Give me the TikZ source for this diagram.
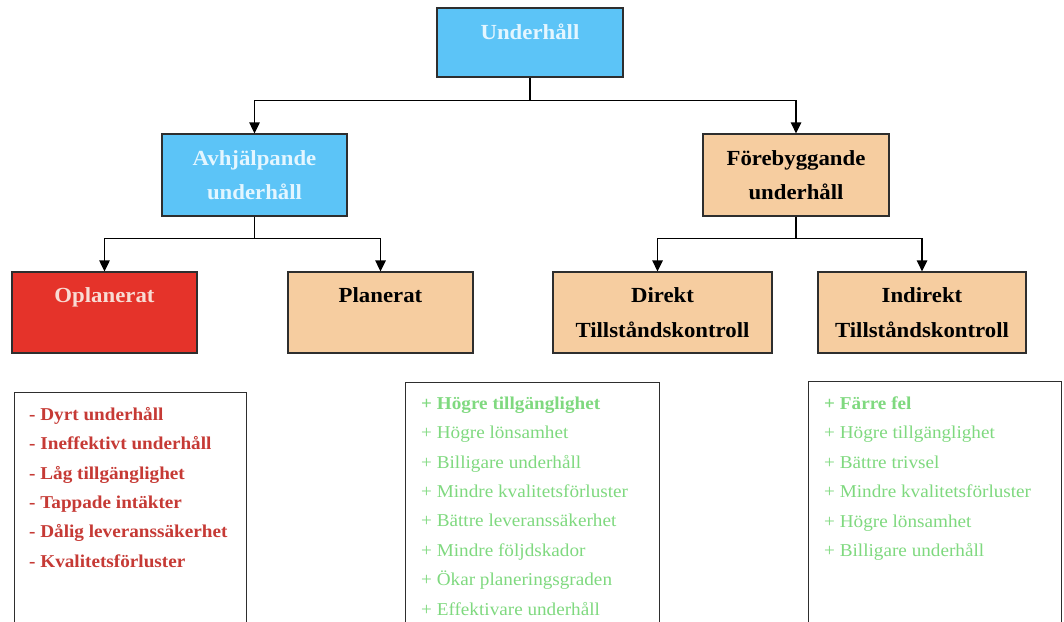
\documentclass[tikz,border=0pt]{standalone}
\usepackage{fontspec}
\setmainfont{Liberation Serif}[FakeStretch=1.06]
\usetikzlibrary{arrows.meta,calc}

\definecolor{skyfill}{HTML}{5CC4F7}
\definecolor{skytext}{HTML}{E4F6FF}
\definecolor{sandfill}{HTML}{F6CDA0}
\definecolor{alarmfill}{HTML}{E5332A}
\definecolor{alarmtext}{HTML}{F8DCD4}
\definecolor{edge}{HTML}{2E2E2E}
\definecolor{consred}{HTML}{C63A35}
\definecolor{prosgreen}{HTML}{7FD97F}

\newcommand{\boxfont}{\fontsize{21.5}{34.5}\selectfont\bfseries}
\newcommand{\listfont}{\fontsize{18.1}{29.4}\selectfont}

\begin{document}
\begin{tikzpicture}[x=1pt,y=-1pt,
  box/.style={draw=edge, line width=1.3pt, align=center, inner sep=0pt, font=\boxfont},
  skybox/.style={box, fill=skyfill, text=skytext},
  sandbox/.style={box, fill=sandfill, text=black},
  alarmbox/.style={box, fill=alarmfill, text=alarmtext},
  midsize/.style={minimum width=185pt, minimum height=82pt},
  lowsize/.style={minimum height=81pt},
  listbox/.style={draw=edge, line width=1.3pt, fill=white, inner sep=0pt, anchor=north west},
  listtext/.style={align=left, inner sep=0pt, anchor=north west, font=\listfont},
  arr/.style={draw=black, line width=1.4pt, -{Triangle[length=11pt,width=10.5pt]}}
]
\clip (0,0) rectangle (1064,621);
\fill[white] (0,0) rectangle (1064,621);

% tree of maintenance types
\node[skybox, minimum width=186pt, minimum height=69pt, text depth=22pt] (top) at (530,42.5) {Underhåll};
\node[skybox, midsize] (avh) at (254.5,175) {Avhjälpande\\underhåll};
\node[sandbox, midsize, minimum width=186pt] (fore) at (796,175) {Förebyggande\\underhåll};
\node[alarmbox, lowsize, minimum width=185pt] (opl) at (104.5,312.5) {Oplanerat\\\mbox{}};
\node[sandbox, lowsize, minimum width=185pt] (plan) at (380.5,312.5) {Planerat\\\mbox{}};
\node[sandbox, lowsize, minimum width=219pt] (dir) at (662.5,312.5) {Direkt\\Tillståndskontroll};
\node[sandbox, lowsize, minimum width=208pt] (ind) at (922,312.5) {Indirekt\\Tillståndskontroll};

% connectors
\draw[arr] (top.south) -- ++(0,23) -| (avh.north);
\draw[arr] (top.south) -- ++(0,23) -| (fore.north);
\draw[arr] (avh.south) -- ++(0,22) -| (opl.north);
\draw[arr] (avh.south) -- ++(0,22) -| (plan.north);
\draw[arr] (fore.south) -- ++(0,22) -| ([xshift=-5pt]dir.north);
\draw[arr] (fore.south) -- ++(0,22) -| (ind.north);

% drawbacks and benefits
\node[listbox, minimum width=232pt, minimum height=250pt] (cons) at (14,392) {};
\node[listbox, minimum width=254pt, minimum height=260pt] (prosdir) at (405,382) {};
\node[listbox, minimum width=253pt, minimum height=260pt] (prosind) at (808,381) {};

\node[listtext, text=consred, font=\listfont\bfseries] (consl) at (29,407)
  {- Dyrt underhåll\\- Ineffektivt underhåll\\- Låg tillgänglighet\\- Tappade intäkter\\- Dålig leveranssäkerhet\\- Kvalitetsförluster};
\node[listtext, text=prosgreen] (prosdirl) at (421,396.5)
  {{\bfseries + Högre tillgänglighet}\\+ Högre lönsamhet\\+ Billigare underhåll\\+ Mindre kvalitetsförluster\\+ Bättre leveranssäkerhet\\+ Mindre följdskador\\+ Ökar planeringsgraden\\+ Effektivare underhåll};
\node[listtext, text=prosgreen] (prosindl) at (824,396.5)
  {{\bfseries + Färre fel}\\+ Högre tillgänglighet\\+ Bättre trivsel\\+ Mindre kvalitetsförluster\\+ Högre lönsamhet\\+ Billigare underhåll};
\end{tikzpicture}
\end{document}
